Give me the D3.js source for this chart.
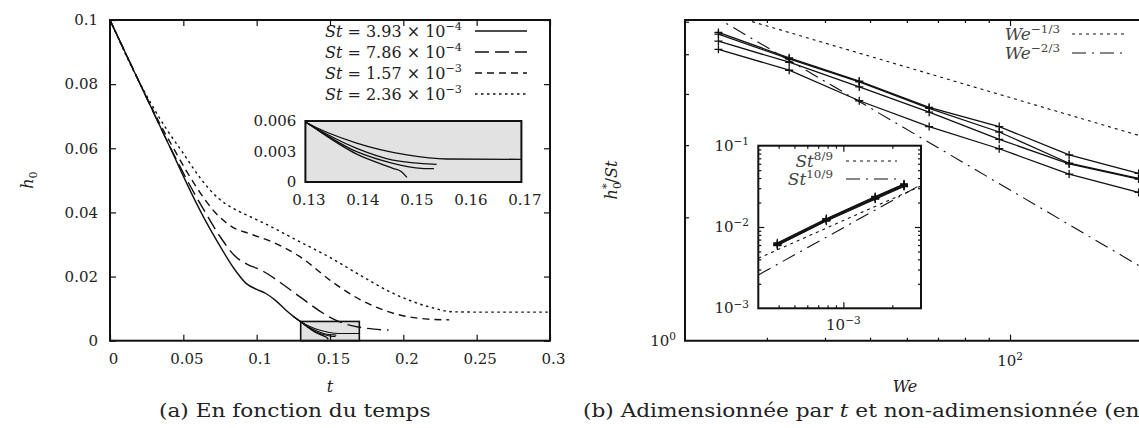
<!DOCTYPE html>
<html>
<head>
<meta charset="utf-8">
<script src="https://cdn.jsdelivr.net/npm/d3@7"></script>
<style>
body { margin: 0; background: #fff; overflow: hidden; }
svg text { font-family: "DejaVu Serif", serif; fill: #222; }
</style>
</head>
<body>
<div class="chart"></div>
<script>
'use strict';
// (a) h0 against t, one curve per St
var stMant = ["3.93", "7.86", "1.57", "2.36"];
var stExp = ["\u22124", "\u22124", "\u22123", "\u22123"];

var t1 = [0, 0.02, 0.04, 0.055, 0.065, 0.075, 0.085, 0.093, 0.1, 0.106, 0.113, 0.12, 0.125, 0.13, 0.1395, 0.1462, 0.1478, 0.1488];
var h1 = [0.1, 0.0805, 0.0612, 0.0465, 0.0375, 0.0295, 0.0222, 0.0178, 0.016, 0.0148, 0.0125, 0.0095, 0.0076, 0.0059, 0.00275, 0.00135, 0.00101, 0.00046];
var t2 = [0, 0.02, 0.04, 0.055, 0.065, 0.075, 0.085, 0.095, 0.1, 0.105, 0.115, 0.13, 0.15, 0.16, 0.17, 0.18, 0.19];
var h2 = [0.1, 0.0806, 0.0613, 0.048, 0.04, 0.0325, 0.0265, 0.0235, 0.0226, 0.0215, 0.0185, 0.0135, 0.0073, 0.0053, 0.0042, 0.0036, 0.0033];
var t3 = [0, 0.02, 0.035, 0.0443, 0.0516, 0.0614, 0.0711, 0.0832, 0.0955, 0.11, 0.1295, 0.1514, 0.171, 0.1977, 0.215, 0.2313];
var h3 = [0.1, 0.0806, 0.0668, 0.0592, 0.0533, 0.0462, 0.0403, 0.0355, 0.0333, 0.0309, 0.0262, 0.0184, 0.0127, 0.008, 0.0068, 0.0065];
var t4 = [0, 0.02, 0.0273, 0.0346, 0.0395, 0.0491, 0.0614, 0.0736, 0.085, 0.0955, 0.1052, 0.1271, 0.149, 0.1685, 0.1929, 0.2172, 0.2343, 0.26, 0.3];
var h4 = [0.1, 0.0806, 0.0745, 0.0688, 0.0653, 0.059, 0.0508, 0.0445, 0.041, 0.0387, 0.0366, 0.0314, 0.0262, 0.021, 0.0148, 0.0106, 0.009, 0.0089, 0.0089];

// extra solid curves seen in the zoom box
var tz1 = [0.125, 0.13, 0.1395, 0.1488, 0.1561, 0.17];
var hz1 = [0.0076, 0.0059, 0.00382, 0.00266, 0.00226, 0.00223];
var tz2 = [0.125, 0.13, 0.1395, 0.1462, 0.1543];
var hz2 = [0.0076, 0.0059, 0.00331, 0.00216, 0.00174];
var tz3 = [0.125, 0.13, 0.1395, 0.1462, 0.1515, 0.1538];
var hz3 = [0.0076, 0.0059, 0.00298, 0.00184, 0.00135, 0.00131];

var xTicksA = [0, 0.05, 0.1, 0.15, 0.2, 0.25, 0.3];
var xLabelsA = ["0", "0.05", "0.1", "0.15", "0.2", "0.25", "0.3"];
var yTicksA = [0, 0.02, 0.04, 0.06, 0.08, 0.1];
var yLabelsA = ["0", "0.02", "0.04", "0.06", "0.08", "0.1"];
var xTicksZ = [0.13, 0.14, 0.15, 0.16, 0.17];
var xLabelsZ = ["0.13", "0.14", "0.15", "0.16", "0.17"];
var yTicksZ = [0, 0.003, 0.006];
var yLabelsZ = ["0", "0.003", "0.006"];

// (b) h0*/St against We
var weVals = [23.6, 33.5, 47.4, 67.0, 94.8, 134, 189];
var hsA = [5.65, 4.9, 4.3, 3.71, 3.33, 2.84, 2.56];
var hsB = [5.6, 4.87, 4.28, 3.69, 3.23, 2.71, 2.49];
var hsC = [5.38, 4.78, 4.16, 3.61, 3.1, 2.7, 2.48];
var hsD = [5.14, 4.57, 3.85, 3.33, 2.94, 2.55, 2.3];
var refWe = [20, 200];
var refThird = [6.71, 3.11];
var refTwoThird = [6.81, 1.47];
var xMinorB = [30, 40, 50, 60, 70, 80, 90];
var xMajorB = [100];
var yMinorB = [2, 3, 4, 5, 6];

// inset of (b): h0* against St, one curve per We
var stVals = [3.93e-4, 7.86e-4, 1.57e-3, 2.36e-3];
var hStar1 = [0.00590, 0.0118, 0.0219, 0.0314];
var hStar2 = [0.00598, 0.0120, 0.0223, 0.0319];
var hStar3 = [0.00607, 0.0121, 0.0226, 0.0322];
var hStar4 = [0.00615, 0.0123, 0.0228, 0.0327];
var hStar5 = [0.00622, 0.0124, 0.0232, 0.0331];
var hStar6 = [0.00631, 0.0125, 0.0234, 0.0336];
var hStar7 = [0.00640, 0.0127, 0.0238, 0.0340];
var refSt = [3e-4, 3e-3];
var refEight = [0.00412, 0.0319];
var refTen = [0.00257, 0.0332];
var xMinorI = [4e-4, 5e-4, 6e-4, 7e-4, 8e-4, 9e-4, 2e-3];
var yMinorI = [2e-3, 3e-3, 4e-3, 5e-3, 6e-3, 7e-3, 8e-3, 9e-3, 2e-2, 3e-2, 4e-2, 5e-2, 6e-2, 7e-2, 8e-2, 9e-2];

var svg = d3.select(".chart").append("svg")
	.attr("width", 1139)
	.attr("height", 428);

function sup(text, base, exp, italic) {
	text.append("tspan").attr("font-style", italic ? "italic" : null).text(base);
	text.append("tspan").attr("dy", "-0.55em").attr("font-size", "0.7em").text(exp);
}

function clip(id, x0, y0, x1, y1) {
	svg.append("clipPath").attr("id", id).append("rect")
		.attr("x", x0).attr("y", y0).attr("width", x1 - x0).attr("height", y1 - y0);
}

function tickAxis(g, axis) {
	g.call(axis)
		.attr("font-size", 15)
		.attr("font-family", "DejaVu Serif")
		.attr("color", "#111");
	g.select(".domain").remove();
	g.selectAll(".tick line").attr("stroke-width", 1.2);
	return g;
}

/* ---------- panel (a) ---------- */
var xA = d3.scaleLinear().domain([0, 0.3]).range([110, 550]);
var yA = d3.scaleLinear().domain([0, 0.1]).range([340.7, 20]);
clip("clipA", 110, 20, 550, 340.7);

svg.append("rect")
	.attr("x", xA(0.13)).attr("y", yA(0.006))
	.attr("width", xA(0.17) - xA(0.13)).attr("height", yA(0) - yA(0.006))
	.attr("fill", "#e2e2e2").attr("stroke", "#111").attr("stroke-width", 1.6);

var lineA = d3.line().x(d => xA(d[0])).y(d => yA(d[1])).curve(d3.curveMonotoneX);
var mainA = [
	{ pts: d3.zip(t1, h1), dash: null },
	{ pts: d3.zip(t2, h2), dash: "14,6" },
	{ pts: d3.zip(t3, h3), dash: "7,5" },
	{ pts: d3.zip(t4, h4), dash: "2.5,3.5" }
];
var zoomA = [d3.zip(tz1, hz1), d3.zip(tz2, hz2), d3.zip(tz3, hz3)];

svg.append("g").attr("clip-path", "url(#clipA)")
	.selectAll(".zl").data(zoomA).enter()
	.append("path")
		.attr("d", d => lineA(d))
		.attr("fill", "none").attr("stroke", "#111").attr("stroke-width", 1.1);

svg.append("g").attr("clip-path", "url(#clipA)")
	.selectAll(".ml").data(mainA).enter()
	.append("path")
		.attr("d", d => lineA(d.pts))
		.attr("fill", "none").attr("stroke", "#111").attr("stroke-width", 1.4)
		.attr("stroke-dasharray", d => d.dash);

tickAxis(svg.append("g").attr("transform", "translate(0,340.7)"),
	d3.axisBottom(xA).tickValues(xTicksA).tickFormat((d, i) => xLabelsA[i]).tickSizeInner(-6).tickSizeOuter(0).tickPadding(13))
	.selectAll("text").attr("dx", 3);
tickAxis(svg.append("g").attr("transform", "translate(0,20)"),
	d3.axisTop(xA).tickValues(xTicksA).tickFormat("").tickSizeInner(-6).tickSizeOuter(0));
tickAxis(svg.append("g").attr("transform", "translate(110,0)"),
	d3.axisLeft(yA).tickValues(yTicksA).tickFormat((d, i) => yLabelsA[i]).tickSizeInner(-6).tickSizeOuter(0).tickPadding(12));
tickAxis(svg.append("g").attr("transform", "translate(550,0)"),
	d3.axisRight(yA).tickValues(yTicksA).tickFormat("").tickSizeInner(-6).tickSizeOuter(0));

svg.append("rect").attr("x", 110).attr("y", 20).attr("width", 440).attr("height", 320.7)
	.attr("fill", "none").attr("stroke", "#111").attr("stroke-width", 2);

// legend (a)
var legA = svg.append("g").selectAll(".leg").data(mainA).enter().append("g")
	.attr("transform", (d, i) => "translate(0," + (31 + i * 21) + ")");
legA.append("line").attr("x1", 475).attr("x2", 527)
	.attr("stroke", "#111").attr("stroke-width", 1.4).attr("stroke-dasharray", d => d.dash);
legA.append("text").attr("x", 462).attr("y", 5.5).attr("text-anchor", "end").attr("font-size", 16)
	.each(function(d, i) {
		var t = d3.select(this);
		t.append("tspan").attr("font-style", "italic").text("St");
		t.append("tspan").text(" = " + stMant[i] + " \u00d7 10");
		t.append("tspan").attr("dy", "-0.55em").attr("font-size", "0.7em").text(stExp[i]);
	});

// inset of (a)
var xZ = d3.scaleLinear().domain([0.13, 0.17]).range([305.4, 521.4]);
var yZ = d3.scaleLinear().domain([0, 0.006]).range([182, 121]);
clip("clipZ", 305.4, 121, 521.4, 182);
svg.append("rect").attr("x", 305.4).attr("y", 121).attr("width", 216).attr("height", 61)
	.attr("fill", "#e2e2e2");
var lineZ = d3.line().x(d => xZ(d[0])).y(d => yZ(d[1])).curve(d3.curveMonotoneX);
svg.append("g").attr("clip-path", "url(#clipZ)")
	.selectAll(".zz").data(zoomA.concat([d3.zip(t1, h1)])).enter()
	.append("path")
		.attr("d", d => lineZ(d))
		.attr("fill", "none").attr("stroke", "#111").attr("stroke-width", 1.3);
svg.append("rect").attr("x", 305.4).attr("y", 121).attr("width", 216).attr("height", 61)
	.attr("fill", "none").attr("stroke", "#111").attr("stroke-width", 2);
tickAxis(svg.append("g").attr("transform", "translate(0,182)"),
	d3.axisBottom(xZ).tickValues(xTicksZ).tickFormat((d, i) => xLabelsZ[i]).tickSize(0).tickPadding(12))
	.selectAll("text").attr("dx", 3);
tickAxis(svg.append("g").attr("transform", "translate(305.4,0)"),
	d3.axisLeft(yZ).tickValues(yTicksZ).tickFormat((d, i) => yLabelsZ[i]).tickSize(0).tickPadding(9));

svg.append("text").attr("transform", "translate(33,180) rotate(-90)").attr("text-anchor", "middle").attr("font-size", 16)
	.call(t => {
		t.append("tspan").attr("font-style", "italic").text("h");
		t.append("tspan").attr("dy", 4).attr("font-size", "0.7em").text("0");
	});
svg.append("text").attr("x", 330).attr("y", 392).attr("text-anchor", "middle").attr("font-size", 16)
	.attr("font-style", "italic").text("t");
svg.append("text").attr("transform", "translate(159,417) scale(1.14,1)").attr("font-size", 19)
	.text("(a) En fonction du temps");

/* ---------- panel (b) ---------- */
var xB = d3.scaleLog().domain([20, 200]).range([685, 1150]);
var yB = d3.scaleLog().domain([1, 6.06]).range([340.7, 20]);
clip("clipB", 685, 20, 1150, 340.7);

var lineB = d3.line().x(d => xB(d[0])).y(d => yB(d[1]));
var seriesB = [hsA, hsB, hsC, hsD].map(v => d3.zip(weVals, v));
var gB = svg.append("g").attr("clip-path", "url(#clipB)");

gB.append("path").attr("d", lineB(d3.zip(refWe, refThird)))
	.attr("fill", "none").attr("stroke", "#111").attr("stroke-width", 1.1).attr("stroke-dasharray", "3,4");
gB.append("path").attr("d", lineB(d3.zip(refWe, refTwoThird)))
	.attr("fill", "none").attr("stroke", "#111").attr("stroke-width", 1.1).attr("stroke-dasharray", "14,6,2,6");

gB.selectAll(".sb").data(seriesB).enter()
	.append("path")
		.attr("d", d => lineB(d))
		.attr("fill", "none").attr("stroke", "#111").attr("stroke-width", 1.3);
gB.selectAll(".mk").data(d3.merge(seriesB)).enter()
	.append("path")
		.attr("transform", d => "translate(" + xB(d[0]) + "," + yB(d[1]) + ")")
		.attr("d", "M-4,0H4M0,-4V4")
		.attr("stroke", "#111").attr("stroke-width", 1.3);

tickAxis(svg.append("g").attr("transform", "translate(0,340.7)"),
	d3.axisBottom(xB).tickValues(xMinorB).tickFormat("").tickSizeInner(-3).tickSizeOuter(0));
tickAxis(svg.append("g").attr("transform", "translate(0,340.7)"),
	d3.axisBottom(xB).tickValues(xMajorB).tickFormat("").tickSizeInner(-6).tickSizeOuter(0));
tickAxis(svg.append("g").attr("transform", "translate(0,20)"),
	d3.axisTop(xB).tickValues(xMinorB).tickFormat("").tickSizeInner(-3).tickSizeOuter(0));
tickAxis(svg.append("g").attr("transform", "translate(0,20)"),
	d3.axisTop(xB).tickValues(xMajorB).tickFormat("").tickSizeInner(-6).tickSizeOuter(0));
tickAxis(svg.append("g").attr("transform", "translate(685,0)"),
	d3.axisLeft(yB).tickValues(yMinorB).tickFormat("").tickSizeInner(-4).tickSizeOuter(0));

svg.append("path").attr("d", "M1150,20H685V340.7H1150")
	.attr("fill", "none").attr("stroke", "#111").attr("stroke-width", 2);

svg.append("text").attr("x", xB(100)).attr("y", 366).attr("text-anchor", "middle").attr("font-size", 15)
	.call(t => sup(t, "10", "2"));
svg.append("text").attr("x", 676).attr("y", 346).attr("text-anchor", "end").attr("font-size", 15)
	.call(t => sup(t, "10", "0"));

// legend (b)
var legB = [
	{ exp: "\u22121/3", dash: "3,4" },
	{ exp: "\u22122/3", dash: "14,6,2,6" }
];
var lb = svg.append("g").selectAll(".lb").data(legB).enter().append("g")
	.attr("transform", (d, i) => "translate(0," + (34 + i * 19) + ")");
lb.append("line").attr("x1", 1072).attr("x2", 1125)
	.attr("stroke", "#111").attr("stroke-width", 1.1).attr("stroke-dasharray", d => d.dash);
lb.append("text").attr("x", 1060).attr("y", 5.5).attr("text-anchor", "end").attr("font-size", 17)
	.style("fill", "#444")
	.each(function(d) { sup(d3.select(this), "We", d.exp, true); });

// inset of (b)
var xI = d3.scaleLog().domain([3e-4, 3e-3]).range([758.3, 921]);
var yI = d3.scaleLog().domain([1e-3, 1e-1]).range([308.3, 145.7]);
clip("clipI", 758.3, 145.7, 921, 308.3);
svg.append("rect").attr("x", 758.3).attr("y", 145.7).attr("width", 162.7).attr("height", 162.6)
	.attr("fill", "#fff");

var lineI = d3.line().x(d => xI(d[0])).y(d => yI(d[1]));
var gI = svg.append("g").attr("clip-path", "url(#clipI)");
gI.append("path").attr("d", lineI(d3.zip(refSt, refEight)))
	.attr("fill", "none").attr("stroke", "#111").attr("stroke-width", 1.1).attr("stroke-dasharray", "3,4");
gI.append("path").attr("d", lineI(d3.zip(refSt, refTen)))
	.attr("fill", "none").attr("stroke", "#111").attr("stroke-width", 1.1).attr("stroke-dasharray", "14,6,2,6");
var seriesI = [hStar1, hStar2, hStar3, hStar4, hStar5, hStar6, hStar7].map(v => d3.zip(stVals, v));
gI.selectAll(".si").data(seriesI).enter()
	.append("path")
		.attr("d", d => lineI(d))
		.attr("fill", "none").attr("stroke", "#111").attr("stroke-width", 1);
gI.selectAll(".mi").data(d3.merge(seriesI)).enter()
	.append("path")
		.attr("transform", d => "translate(" + xI(d[0]) + "," + yI(d[1]) + ")")
		.attr("d", "M-4,0H4M0,-4V4")
		.attr("stroke", "#111").attr("stroke-width", 1.1);

tickAxis(svg.append("g").attr("transform", "translate(0,308.3)"),
	d3.axisBottom(xI).tickValues(xMinorI).tickFormat("").tickSizeInner(-3).tickSizeOuter(0));
tickAxis(svg.append("g").attr("transform", "translate(0,308.3)"),
	d3.axisBottom(xI).tickValues([1e-3]).tickFormat("").tickSizeInner(-6).tickSizeOuter(0));
tickAxis(svg.append("g").attr("transform", "translate(0,145.7)"),
	d3.axisTop(xI).tickValues(xMinorI).tickFormat("").tickSizeInner(-3).tickSizeOuter(0));
tickAxis(svg.append("g").attr("transform", "translate(0,145.7)"),
	d3.axisTop(xI).tickValues([1e-3]).tickFormat("").tickSizeInner(-6).tickSizeOuter(0));
tickAxis(svg.append("g").attr("transform", "translate(758.3,0)"),
	d3.axisLeft(yI).tickValues(yMinorI).tickFormat("").tickSizeInner(-3).tickSizeOuter(0));
tickAxis(svg.append("g").attr("transform", "translate(758.3,0)"),
	d3.axisLeft(yI).tickValues([1e-2]).tickFormat("").tickSizeInner(-6).tickSizeOuter(0));
tickAxis(svg.append("g").attr("transform", "translate(921,0)"),
	d3.axisRight(yI).tickValues(yMinorI).tickFormat("").tickSizeInner(-3).tickSizeOuter(0));
tickAxis(svg.append("g").attr("transform", "translate(921,0)"),
	d3.axisRight(yI).tickValues([1e-2]).tickFormat("").tickSizeInner(-6).tickSizeOuter(0));
svg.append("rect").attr("x", 758.3).attr("y", 145.7).attr("width", 162.7).attr("height", 162.6)
	.attr("fill", "none").attr("stroke", "#111").attr("stroke-width", 2);

var yLabI = [{ v: 1e-1, e: "\u22121" }, { v: 1e-2, e: "\u22122" }, { v: 1e-3, e: "\u22123" }];
svg.append("g").selectAll(".yli").data(yLabI).enter().append("text")
	.attr("x", 749).attr("y", d => yI(d.v) + 5).attr("text-anchor", "end").attr("font-size", 15)
	.each(function(d) { sup(d3.select(this), "10", d.e); });
svg.append("text").attr("x", xI(1e-3)).attr("y", 330).attr("text-anchor", "middle").attr("font-size", 15)
	.call(t => sup(t, "10", "\u22123"));

var legI = [
	{ exp: "8/9", dash: "3,4" },
	{ exp: "10/9", dash: "14,6,2,6" }
];
var li = svg.append("g").selectAll(".li").data(legI).enter().append("g")
	.attr("transform", (d, i) => "translate(0," + (161 + i * 18) + ")");
li.append("line").attr("x1", 846).attr("x2", 897)
	.attr("stroke", "#111").attr("stroke-width", 1.1).attr("stroke-dasharray", d => d.dash);
li.append("text").attr("x", 833).attr("y", 5.5).attr("text-anchor", "end").attr("font-size", 17)
	.style("fill", "#444")
	.each(function(d) { sup(d3.select(this), "St", d.exp, true); });

svg.append("text").attr("transform", "translate(617,180) rotate(-90)").attr("text-anchor", "middle").attr("font-size", 16)
	.call(t => {
		t.append("tspan").attr("font-style", "italic").text("h");
		t.append("tspan").attr("dy", 4).attr("font-size", "0.7em").text("0");
		t.append("tspan").attr("dx", -7).attr("dy", -11).attr("font-size", "0.7em").text("*");
		t.append("tspan").attr("dy", 7).text("/");
		t.append("tspan").attr("font-style", "italic").text("St");
	});
svg.append("text").attr("x", 905).attr("y", 392).attr("text-anchor", "middle").attr("font-size", 16)
	.attr("font-style", "italic").text("We");
svg.append("text").attr("transform", "translate(583,417) scale(1.14,1)").attr("font-size", 19)
	.call(t => {
		t.append("tspan").text("(b) Adimensionn\u00e9e par ");
		t.append("tspan").attr("font-style", "italic").text("t");
		t.append("tspan").text(" et non-adimensionn\u00e9e (en");
	});
</script>
</body>
</html>
